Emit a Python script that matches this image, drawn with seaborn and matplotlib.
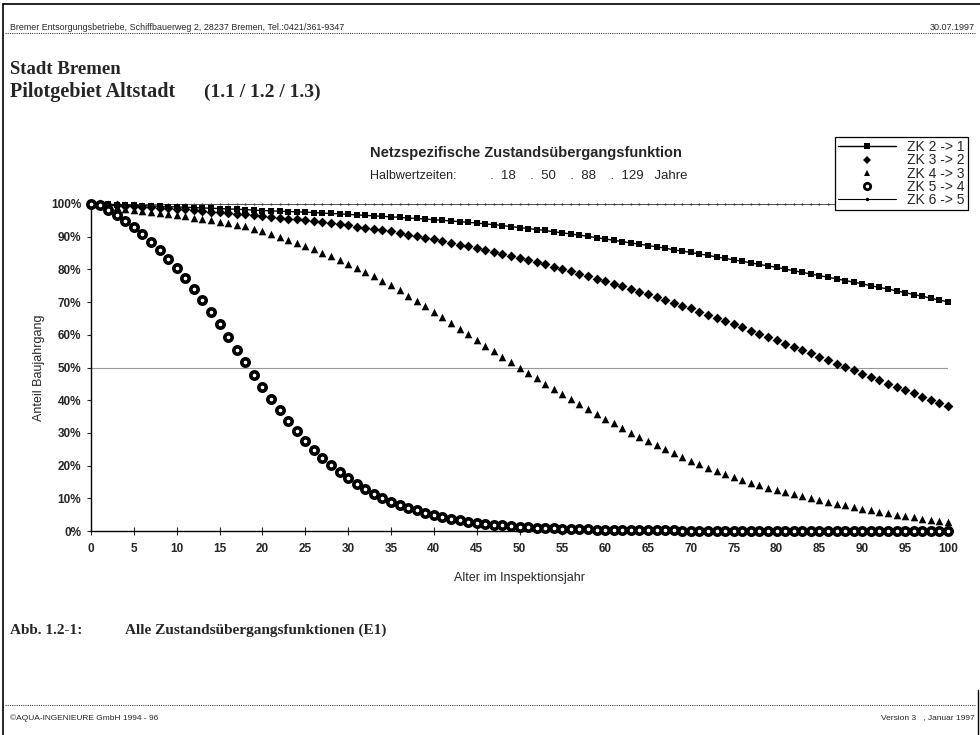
import matplotlib
matplotlib.use("Agg")
import matplotlib.pyplot as plt
from matplotlib.lines import Line2D
import seaborn as sns

# =========================================================
# Daten
# =========================================================
years = list(range(0, 101))

# ZK 2 -> 1 (Halbwertzeit 129 Jahre)
zk21 = [100.0, 99.9, 99.9, 99.8, 99.7, 99.6, 99.5, 99.4, 99.3, 99.2,
        99.1, 99.0, 98.9, 98.8, 98.7, 98.6, 98.5, 98.4, 98.3, 98.1,
        98.0, 97.9, 97.8, 97.7, 97.6, 97.5, 97.4, 97.2, 97.1, 97.0,
        96.8, 96.7, 96.5, 96.4, 96.2, 96.1, 95.9, 95.7, 95.6, 95.4,
        95.2, 95.0, 94.8, 94.6, 94.4, 94.2, 93.9, 93.7, 93.4, 93.1,
        92.8, 92.5, 92.2, 91.9, 91.5, 91.2, 90.8, 90.5, 90.1, 89.7,
        89.3, 88.9, 88.5, 88.1, 87.7, 87.3, 86.9, 86.5, 86.0, 85.6,
        85.2, 84.7, 84.3, 83.8, 83.4, 82.9, 82.5, 82.0, 81.5, 81.1,
        80.6, 80.1, 79.6, 79.1, 78.6, 78.1, 77.6, 77.1, 76.6, 76.1,
        75.6, 75.0, 74.5, 74.0, 73.4, 72.9, 72.3, 71.8, 71.2, 70.6,
        70.1]

# ZK 3 -> 2 (Halbwertzeit 88 Jahre)
zk32 = [100.0, 99.9, 99.8, 99.7, 99.5, 99.4, 99.2, 99.1, 98.9, 98.8,
        98.6, 98.4, 98.2, 97.9, 97.7, 97.5, 97.3, 97.0, 96.8, 96.5,
        96.3, 96.0, 95.8, 95.5, 95.3, 95.0, 94.7, 94.4, 94.1, 93.8,
        93.5, 93.1, 92.7, 92.4, 92.0, 91.6, 91.1, 90.6, 90.2, 89.7,
        89.2, 88.7, 88.2, 87.6, 87.1, 86.6, 86.0, 85.4, 84.8, 84.2,
        83.6, 82.9, 82.2, 81.5, 80.8, 80.1, 79.4, 78.6, 77.9, 77.1,
        76.4, 75.6, 74.8, 74.0, 73.2, 72.4, 71.5, 70.7, 69.8, 68.9,
        68.1, 67.1, 66.2, 65.2, 64.3, 63.3, 62.3, 61.3, 60.3, 59.3,
        58.3, 57.3, 56.3, 55.3, 54.3, 53.3, 52.3, 51.2, 50.2, 49.2,
        48.1, 47.1, 46.1, 45.1, 44.1, 43.1, 42.1, 41.1, 40.1, 39.1,
        38.1]

# ZK 4 -> 3 (Halbwertzeit 50 Jahre)
zk43 = [100.0, 99.7, 99.3, 99.0, 98.6, 98.3, 97.9, 97.6, 97.2, 96.9,
        96.5, 96.2, 95.8, 95.4, 95.0, 94.6, 94.2, 93.7, 93.2, 92.5,
        91.7, 90.9, 90.0, 89.1, 88.2, 87.2, 86.2, 85.1, 84.0, 82.9,
        81.8, 80.5, 79.2, 77.9, 76.5, 75.1, 73.6, 72.0, 70.4, 68.8,
        67.1, 65.4, 63.7, 61.9, 60.2, 58.4, 56.7, 54.9, 53.2, 51.6,
        50.0, 48.3, 46.7, 45.1, 43.5, 41.9, 40.3, 38.8, 37.3, 35.8,
        34.3, 32.9, 31.5, 30.1, 28.8, 27.5, 26.2, 25.0, 23.8, 22.6,
        21.5, 20.4, 19.4, 18.4, 17.4, 16.4, 15.6, 14.8, 14.0, 13.3,
        12.6, 11.9, 11.2, 10.6, 10.0, 9.4, 8.8, 8.3, 7.8, 7.2,
        6.7, 6.3, 5.8, 5.4, 5.0, 4.6, 4.2, 3.8, 3.4, 3.0,
        2.7]

# ZK 5 -> 4 (Halbwertzeit 18 Jahre)
zk54 = [100.0, 99.6, 98.3, 96.5, 94.8, 92.9, 90.8, 88.5, 86.0, 83.3,
        80.4, 77.3, 74.0, 70.5, 66.9, 63.2, 59.4, 55.5, 51.6, 47.8,
        44.0, 40.4, 36.9, 33.6, 30.5, 27.6, 24.9, 22.4, 20.1, 18.0,
        16.1, 14.4, 12.8, 11.4, 10.1, 9.0, 8.0, 7.1, 6.3, 5.5,
        4.9, 4.3, 3.8, 3.3, 2.9, 2.5, 2.2, 1.9, 1.7, 1.5,
        1.3, 1.1, 1.0, 0.9, 0.8, 0.7, 0.6, 0.5, 0.5, 0.4,
        0.4, 0.3, 0.3, 0.3, 0.2, 0.2, 0.2, 0.2, 0.2, 0.1,
        0.1, 0.1, 0.1, 0.1, 0.1, 0.1, 0.1, 0.1, 0.1, 0.1,
        0.1, 0.0, 0.0, 0.0, 0.0, 0.0, 0.0, 0.0, 0.0, 0.0,
        0.0, 0.0, 0.0, 0.0, 0.0, 0.0, 0.0, 0.0, 0.0, 0.0,
        0.0]

# ZK 6 -> 5 (ohne Uebergang, bleibt bei 100 %)
zk65 = [100.0] * len(years)

labels = ["ZK 2 -> 1", "ZK 3 -> 2", "ZK 4 -> 3", "ZK 5 -> 4", "ZK 6 -> 5"]
halbwertzeiten = [18, 50, 88, 129]
x_ticks = list(range(0, 101, 5))
y_ticks = list(range(0, 101, 10))
y_ticklabels = [f"{v}%" for v in y_ticks]

# =========================================================
# Layout
# =========================================================
sns.set_style("ticks")
plt.rcParams['font.family'] = ['Liberation Sans', 'DejaVu Sans']

W, H = 980, 735
fig = plt.figure(figsize=(W / 100, H / 100), dpi=100)
ax = fig.add_axes([91 / W, 1 - 531 / H, (948 - 91) / W, (531 - 204) / H])

# Hilfslinie bei 50 %
ax.axhline(50, color='#999999', lw=0.8, zorder=1)

sns.lineplot(x=years, y=zk65, ax=ax, color='#333333', lw=0.6, marker='o',
             markersize=1.5, markeredgewidth=0, clip_on=False, zorder=3)
sns.lineplot(x=years, y=zk21, ax=ax, color='black', lw=1.0, marker='s',
             markersize=4.6, markeredgewidth=0, clip_on=False, zorder=4)
sns.scatterplot(x=years, y=zk32, ax=ax, marker='D', s=25, color='black',
                linewidth=0, clip_on=False, zorder=4)
sns.scatterplot(x=years, y=zk43, ax=ax, marker='^', s=30, color='black',
                linewidth=0, clip_on=False, zorder=4)
sns.scatterplot(x=years, y=zk54, ax=ax, marker='o', s=28, color='white',
                edgecolor='black', linewidth=2.6, clip_on=False, zorder=4)

ax.set_xlim(0, 100)
ax.set_ylim(0, 100)
ax.set_xticks(x_ticks)
ax.set_xticklabels([str(v) for v in x_ticks], fontsize=8.5, fontweight='bold')
ax.set_yticks(y_ticks)
ax.set_yticklabels(y_ticklabels, fontsize=8.5, fontweight='bold')
ax.tick_params(axis='x', direction='inout', length=6, width=0.8, pad=6)
ax.tick_params(axis='y', direction='out', length=3, width=0.8, pad=4)
for s in ['top', 'right']:
    ax.spines[s].set_visible(False)
for s in ['left', 'bottom']:
    ax.spines[s].set_linewidth(1.0)
    ax.spines[s].set_color('black')
ax.set_xlabel('Alter im Inspektionsjahr', fontsize=9, labelpad=12)
ax.set_ylabel('Anteil Baujahrgang', fontsize=9, labelpad=4)

# Legende
handles = [
    Line2D([], [], color='black', lw=1.0, marker='s', ms=4.2, mew=0),
    Line2D([], [], color='black', lw=0, marker='D', ms=4.4, mew=0),
    Line2D([], [], color='black', lw=0, marker='^', ms=4.8, mew=0),
    Line2D([], [], color='black', lw=0, marker='o', ms=4.6, mfc='white', mew=2.0),
    Line2D([], [], color='black', lw=0.8, marker='o', ms=2.5, mew=0),
]
leg = fig.legend(handles, labels, loc='upper right', bbox_to_anchor=(968 / W, 1 - 137 / H),
                 fontsize=10, frameon=True, fancybox=False, edgecolor='black',
                 framealpha=1, handlelength=4.2, handletextpad=0.8,
                 labelspacing=-0.05, borderpad=0.22, borderaxespad=0)
leg.get_frame().set_linewidth(0.9)
leg.set_zorder(10)

# Diagrammtitel
fig.text(370 / W, 1 - 153 / H, 'Netzspezifische Zustandsübergangsfunktion',
         fontsize=10.5, fontweight='bold', va='center')
fig.text(370 / W, 1 - 176 / H, 'Halbwertzeiten:', fontsize=9, va='center')
hw_text = '.  ' + '    .  '.join(str(h) for h in halbwertzeiten) + '   Jahre'
fig.text(490 / W, 1 - 176 / H, hw_text, fontsize=9.5, va='center')

# Kopfzeile
fig.text(10 / W, 1 - 27 / H,
         'Bremer Entsorgungsbetriebe, Schiffbauerweg 2, 28237 Bremen, Tel.:0421/361-9347',
         fontsize=6.4, va='center')
fig.text(975 / W, 1 - 27 / H, '30.07.1997', fontsize=6.5, va='center', ha='right')
fig.add_artist(Line2D([5 / W, 975 / W], [1 - 33 / H, 1 - 33 / H], color='#444444',
                      lw=0.8, ls=(0, (1, 1))))
fig.text(10 / W, 1 - 70 / H, 'Stadt Bremen', fontsize=13.5, fontweight='bold',
         family='Liberation Serif', va='center')
fig.text(10 / W, 1 - 92 / H, 'Pilotgebiet Altstadt', fontsize=14.5,
         fontweight='bold', family='Liberation Serif', va='center')
fig.text(204 / W, 1 - 92 / H, '(1.1 / 1.2 / 1.3)', fontsize=14,
         fontweight='bold', family='Liberation Serif', va='center')

# Bildunterschrift
fig.text(10 / W, 1 - 630 / H, 'Abb. 1.2-1:', fontsize=11, fontweight='bold',
         family='Liberation Serif', va='center')
fig.text(125 / W, 1 - 630 / H, 'Alle Zustandsübergangsfunktionen (E1)', fontsize=11,
         fontweight='bold', family='Liberation Serif', va='center')

# Fusszeile
fig.add_artist(Line2D([5 / W, 975 / W], [1 - 705 / H, 1 - 705 / H], color='#444444',
                      lw=0.8, ls=(0, (1, 1))))
fig.text(10 / W, 1 - 718 / H, '©AQUA-INGENIEURE GmbH 1994 - 96', fontsize=6, va='center')
fig.text(975 / W, 1 - 718 / H, 'Version 3   , Januar 1997', fontsize=6, va='center', ha='right')

# Seitenrahmen
fig.add_artist(Line2D([3 / W, 3 / W], [0, 1 - 4 / H], color='black', lw=1.2))
fig.add_artist(Line2D([3 / W, 1], [1 - 4 / H, 1 - 4 / H], color='black', lw=1.2))
fig.add_artist(Line2D([978 / W, 978 / W], [0, 1 - 690 / H], color='black', lw=1.0))

fig.savefig('out.png', dpi=100, facecolor='white')
